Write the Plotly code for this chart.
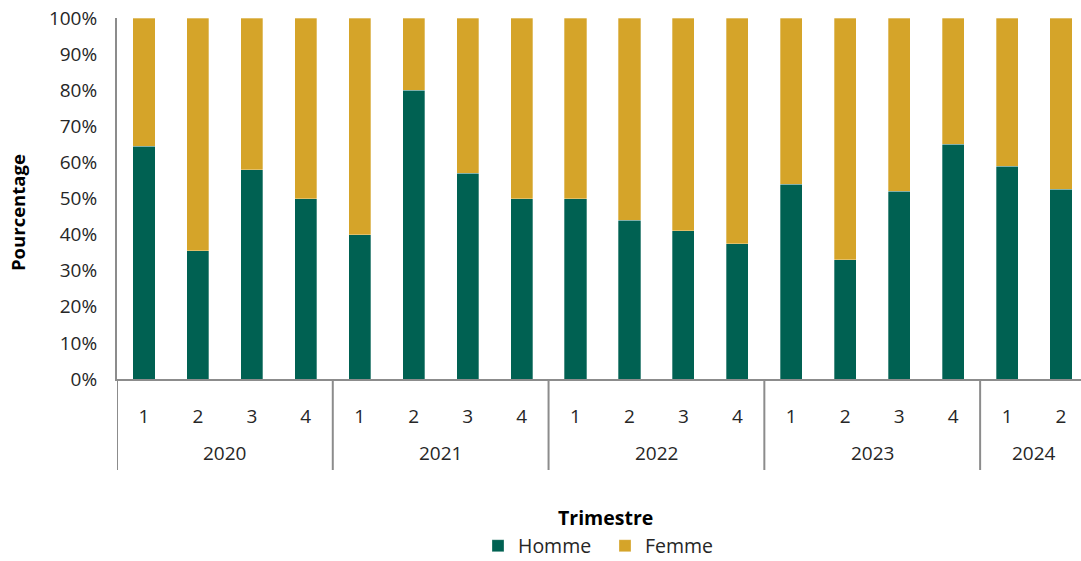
import plotly.graph_objects as go

years = ["2020"] * 4 + ["2021"] * 4 + ["2022"] * 4 + ["2023"] * 4 + ["2024"] * 2
quarters = ["1", "2", "3", "4", "1", "2", "3", "4", "1", "2", "3", "4", "1", "2", "3", "4", "1", "2"]
homme = [64.5, 35.5, 58, 50, 40, 80, 57, 50, 50, 44, 41, 37.5, 54, 33, 52, 65, 59, 52.5]
femme = [35.5, 64.5, 42, 50, 60, 20, 43, 50, 50, 56, 59, 62.5, 46, 67, 48, 35, 41, 47.5]

GREEN = "#006152"
GOLD = "#D5A429"
GREY = "#8C8C8C"
FONT = "Open Sans"
TXT = "#262626"
FS = 19

keys = [f"{y}-T{q}" for y, q in zip(years, quarters)]

fig = go.Figure()
fig.add_trace(go.Bar(x=keys, y=homme, name="Homme",
                     marker=dict(color=GREEN, line=dict(color="rgba(255,255,255,0.6)", width=0.5))))
fig.add_trace(go.Bar(x=keys, y=femme, name="Femme",
                     marker=dict(color=GOLD, line=dict(color="rgba(255,255,255,0.6)", width=0.5))))

# year groups
groups = []
for i, y in enumerate(years):
    if not groups or groups[-1][0] != y:
        groups.append([y, i, i])
    else:
        groups[-1][2] = i

PLOT_H = 561 - 18 - 182
annotations = []
shapes = []
for y, s, e in groups:
    annotations.append(dict(x=(s + e) / 2, y=-74 / PLOT_H, xref="x", yref="paper",
                            text=y, showarrow=False, xanchor="center", yanchor="middle",
                            font=dict(size=FS, color=TXT)))
    shapes.append(dict(type="line", xref="x", yref="paper", x0=s - 0.5, x1=s - 0.5,
                       y0=0, y1=-91 / PLOT_H, line=dict(color=GREY, width=2)))
shapes.append(dict(type="line", xref="x", yref="paper", x0=len(keys) - 0.5, x1=len(keys) - 0.5,
                   y0=0, y1=-91 / PLOT_H, line=dict(color=GREY, width=2)))

annotations.append(dict(x=(605 - 117) / 964, y=-(517 - 379) / PLOT_H, xref="paper", yref="paper",
                        text="<b>Trimestre</b>", showarrow=False, xanchor="center", yanchor="middle",
                        font=dict(size=19.5, color="#000000")))
annotations.append(dict(x=-(117 - 18) / 964, y=(379 - 213) / PLOT_H, xref="paper", yref="paper",
                        text="<b>Pourcentage</b>", showarrow=False, textangle=-90,
                        xanchor="center", yanchor="middle",
                        font=dict(size=18.5, color="#000000")))

fig.update_layout(
    barmode="stack",
    bargap=0.59,
    width=1081, height=561,
    margin=dict(l=117, r=0, t=18, b=182, autoexpand=False),
    plot_bgcolor="white", paper_bgcolor="white",
    font=dict(family=FONT, size=FS, color=TXT),
    legend=dict(orientation="h", x=(605 - 117) / 964, xanchor="center", y=-(546 - 379) / PLOT_H,
                yanchor="middle",
                font=dict(size=19.5, color=TXT), traceorder="normal",
                itemwidth=30, entrywidth=82),
    showlegend=True,
    annotations=annotations,
    shapes=shapes,
)
fig.update_xaxes(
    type="category",
    range=[-0.5, 17.37],
    tickvals=keys, ticktext=quarters,
    showline=True, linecolor=GREY, linewidth=2,
    ticks="", showgrid=False, automargin=False,
    ticklabelstandoff=19,
    tickfont=dict(size=FS, color=TXT),
)
fig.update_yaxes(
    range=[0, 100], dtick=10, ticksuffix="%",
    showline=True, linecolor=GREY, linewidth=2,
    showgrid=False, zeroline=False, ticks="", automargin=False,
    ticklabelstandoff=14,
    tickfont=dict(size=FS, color=TXT),
)

fig.write_html("out.html")
